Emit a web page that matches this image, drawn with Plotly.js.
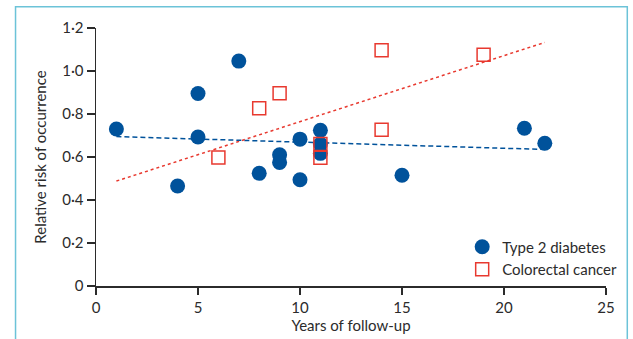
<!DOCTYPE html>
<html>
<head>
<meta charset="utf-8">
<script src="https://cdn.plot.ly/plotly-3.0.1.min.js"></script>
<style>html,body{margin:0;padding:0;background:#fff;}#chart{width:633px;height:339px;}</style>
</head>
<body>
<div id="chart"></div>
<script>
// Type 2 diabetes
const diabetesYears = [1, 4, 5, 5, 7, 8, 9, 9, 10, 10, 11, 11, 11, 15, 21, 22];
const diabetesRisk  = [0.73, 0.465, 0.895, 0.693, 1.046, 0.524, 0.61, 0.575, 0.683, 0.494, 0.724, 0.66, 0.617, 0.515, 0.734, 0.664];
// Colorectal cancer
const crcYears = [6, 8, 9, 11, 11, 14, 14, 19];
const crcRisk  = [0.598, 0.827, 0.897, 0.66, 0.597, 1.096, 0.727, 1.076];
// Fitted trend lines (end points)
const diabetesFitYears = [1, 22];
const diabetesFitRisk  = [0.695, 0.635];
const crcFitYears = [1, 22];
const crcFitRisk  = [0.488, 1.133];

const xTicks = [0, 5, 10, 15, 20, 25];
const xTickText = ['0', '5', '10', '15', '20', '25'];
const yTicks = [0, 0.2, 0.4, 0.6, 0.8, 1.0, 1.2];
const yTickText = ['0', '0·2', '0·4', '0·6', '0·8', '1·0', '1·2'];

const BLUE = '#00529b';
const RED = '#e8392f';
const TXT = '#2b2b2b';
const FONT = 'Lato, "Open Sans", sans-serif';

const traces = [
  {x: diabetesFitYears, y: diabetesFitRisk, mode: 'lines', showlegend: false, hoverinfo: 'skip',
   line: {color: BLUE, width: 1.5, dash: '5px,3px'}},
  {x: crcFitYears, y: crcFitRisk, mode: 'lines', showlegend: false, hoverinfo: 'skip',
   line: {color: RED, width: 1.5, dash: '3px,3px'}},
  {x: diabetesYears, y: diabetesRisk, mode: 'markers', name: 'Type 2 diabetes',
   marker: {symbol: 'circle', size: 15, color: BLUE}},
  {x: crcYears, y: crcRisk, mode: 'markers', name: 'Colorectal cancer',
   marker: {symbol: 'square-open', size: 13, color: RED, line: {color: RED, width: 1.5}}}
];

const layout = {
  width: 633, height: 339,
  margin: {l: 95.5, r: 27.3, t: 28.3, b: 53.3, autoexpand: false},
  paper_bgcolor: '#ffffff', plot_bgcolor: '#ffffff',
  font: {family: FONT, size: 15, color: TXT},
  showlegend: true,
  legend: {x: 0.718, y: 0.215, xanchor: 'left', yanchor: 'top', bgcolor: 'rgba(0,0,0,0)',
           font: {family: FONT, size: 15, color: TXT}, tracegroupgap: 0},
  xaxis: {range: [0, 25], tickvals: xTicks, ticktext: xTickText, showgrid: false, zeroline: false,
          showline: true, linecolor: TXT, linewidth: 1.5, ticks: 'outside', ticklen: 7, tickwidth: 1.5, tickcolor: TXT,
          tickfont: {family: FONT, size: 15, color: TXT},
          title: {text: 'Years of follow-up', font: {family: FONT, size: 15, color: TXT}, standoff: 6}},
  yaxis: {range: [0, 1.2], tickvals: yTicks, ticktext: yTickText, showgrid: false, zeroline: false,
          showline: true, linecolor: TXT, linewidth: 1.5, ticks: 'outside', ticklen: 8, tickwidth: 1.5, tickcolor: TXT,
          tickfont: {family: FONT, size: 15, color: TXT},
          title: {text: 'Relative risk of occurrence', font: {family: FONT, size: 15, color: TXT}, standoff: 12}},
  shapes: [{type: 'rect', xref: 'paper', yref: 'paper',
            x0: (15 - 95.5) / 510.2, x1: (627 - 95.5) / 510.2,
            y0: -0.4, y1: (285.7 - 7) / 257.4,
            line: {color: '#6cc3d8', width: 1.5}, fillcolor: 'rgba(0,0,0,0)', layer: 'below'}]
};

Plotly.newPlot('chart', traces, layout, {displayModeBar: false, staticPlot: true});
</script>
</body>
</html>
